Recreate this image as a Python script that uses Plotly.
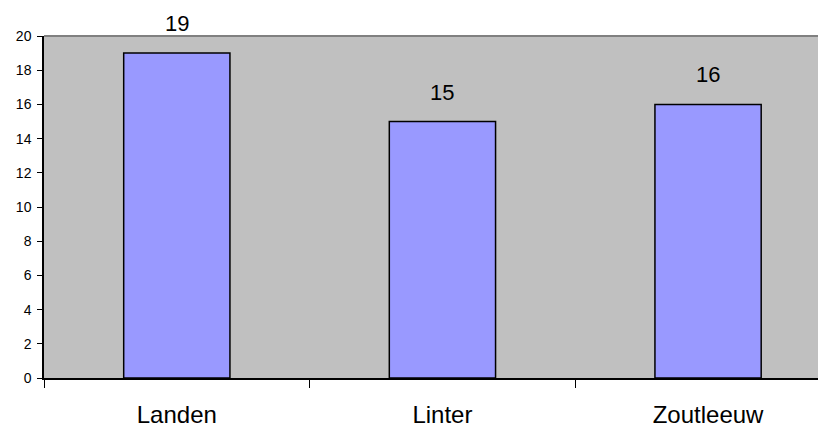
import plotly.graph_objects as go

categories = ["Landen", "Linter", "Zoutleeuw"]
values = [19, 15, 16]
y_ticks = [0, 2, 4, 6, 8, 10, 12, 14, 16, 18, 20]

fig = go.Figure()
fig.add_trace(go.Bar(
    x=categories, y=values, width=0.4,
    marker=dict(color="#9999FF", line=dict(color="#000000", width=1.5)),
    hoverinfo="skip",
))

for c, v in zip(categories, values):
    fig.add_annotation(x=c, y=v, text=str(v), showarrow=False,
                       yanchor="bottom", yshift=15,
                       font=dict(family="Arial, Liberation Sans", size=22, color="#000000"))

fig.add_shape(type="line", xref="paper", yref="paper", x0=0, x1=1, y0=1, y1=1,
              line=dict(color="#808080", width=2))

# page body has an 8px default margin, so margins are offset accordingly
fig.update_layout(
    width=826, height=428,
    margin=dict(l=35, r=8, t=28, b=56),
    paper_bgcolor="#FFFFFF", plot_bgcolor="#C0C0C0",
    showlegend=False,
    font=dict(family="Arial, Liberation Sans", color="#000000"),
)
fig.update_xaxes(
    type="category", range=[-0.5, 2.444],
    tickson="boundaries", ticks="outside", ticklen=8, tickcolor="#000000", tickwidth=1,
    showline=True, linecolor="#000000", linewidth=1.5,
    showgrid=False, zeroline=False,
    tickfont=dict(size=24), ticklabelstandoff=14,
)
fig.update_yaxes(
    range=[0, 20], tickvals=y_ticks, ticks="outside", ticklen=5, tickcolor="#000000",
    showline=True, linecolor="#000000", linewidth=1.5,
    showgrid=False, zeroline=False,
    tickfont=dict(size=14), ticklabelstandoff=3,
)

fig.write_html("out.html")
